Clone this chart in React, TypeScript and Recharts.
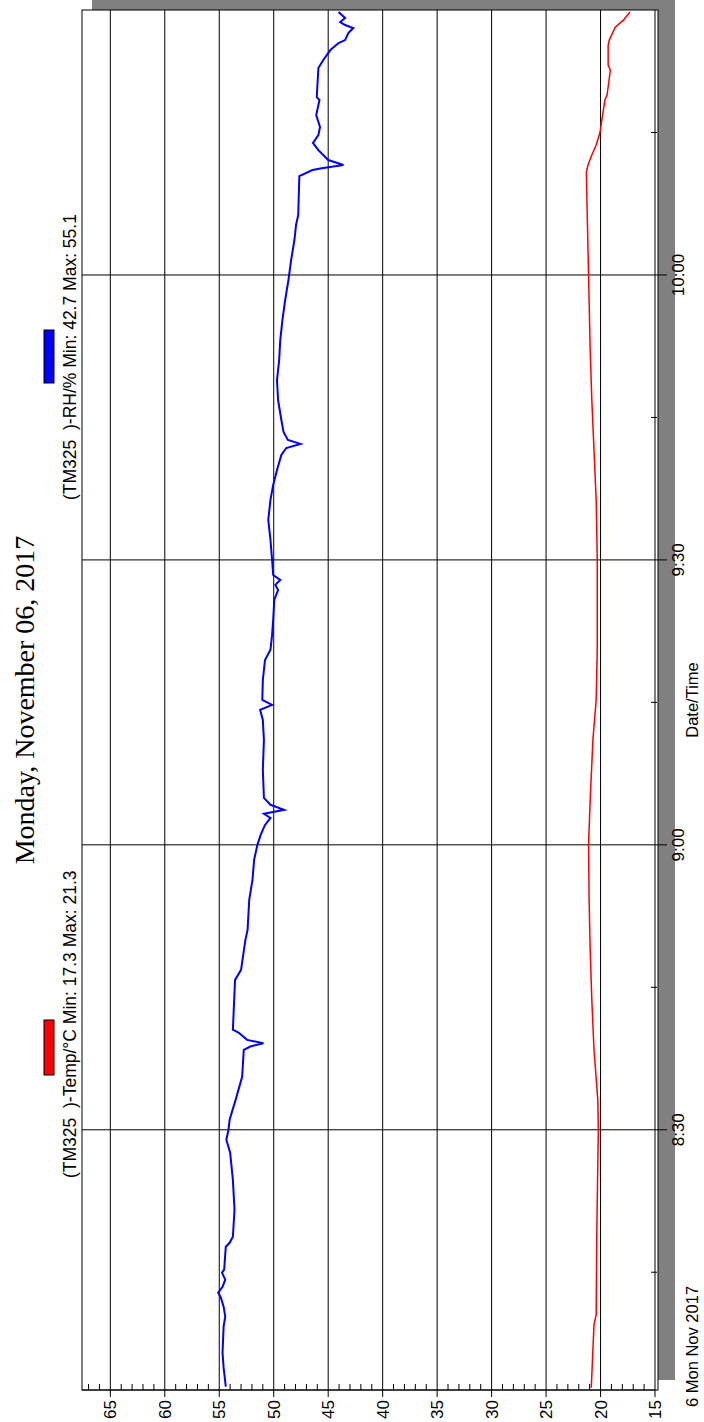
import React from "react";
import { LineChart, Line, XAxis, YAxis, ReferenceLine } from "recharts";

// RH logger trace (TM325), time of day -> %RH
const rhTimes = [
  "8:02:57", "8:04:57", "8:06:31", "8:09:18", "8:10:19", "8:11:22", "8:12:19", "8:12:51",
  "8:13:28", "8:14:13", "8:14:58", "8:15:16", "8:17:41", "8:18:06", "8:18:44", "8:21:35",
  "8:24:44", "8:27:35", "8:28:57", "8:30:00", "8:31:03", "8:33:09", "8:35:35", "8:38:25",
  "8:38:46", "8:39:07", "8:39:28", "8:40:13", "8:40:32", "8:45:47", "8:46:50", "8:50:00",
  "8:51:03", "8:54:13", "8:56:19", "8:58:25", "9:00:00", "9:01:03", "9:02:06", "9:02:50",
  "9:03:16", "9:03:41", "9:04:13", "9:04:57", "9:07:54", "9:11:03", "9:13:09", "9:14:13",
  "9:14:44", "9:15:16", "9:17:22", "9:19:28", "9:20:32", "9:22:06", "9:23:41", "9:25:47",
  "9:26:50", "9:27:22", "9:27:54", "9:28:25", "9:30:00", "9:32:06", "9:34:13", "9:36:19",
  "9:37:54", "9:39:28", "9:41:03", "9:41:47", "9:42:13", "9:42:38", "9:43:28", "9:44:44",
  "9:46:50", "9:48:57", "9:51:03", "9:53:09", "9:55:16", "9:57:22", "9:59:28", "10:01:35",
  "10:03:41", "10:05:16", "10:06:19", "10:10:25", "10:11:03", "10:11:16", "10:11:35", "10:12:06",
  "10:13:09", "10:13:54", "10:14:44", "10:15:35", "10:16:50", "10:18:25", "10:18:44", "10:21:47",
  "10:22:38", "10:23:41", "10:24:25", "10:24:44", "10:25:28", "10:26:00", "10:26:19", "10:26:38",
  "10:27:03", "10:27:22", "10:27:41",
];
const rhValues = [
  54.4, 54.6, 54.7, 54.6, 54.45, 54.6, 54.85, 55.1,
  54.7, 54.45, 54.75, 54.55, 54.4, 54.05, 53.75, 53.6,
  53.75, 54.0, 54.35, 54.15, 54.05, 53.5, 52.9, 52.75,
  52.15, 50.95, 52.45, 53.2, 53.75, 53.55, 53.0, 52.6,
  52.4, 52.25, 51.95, 51.8, 51.5, 51.2, 50.8, 50.3,
  50.9, 49.05, 50.3, 50.9, 51.0, 50.9, 51.0, 51.25,
  50.15, 51.05, 51.0, 50.8, 50.3, 50.15, 50.05, 49.95,
  49.6, 49.85, 49.4, 50.05, 50.15, 50.3, 50.5, 50.3,
  50.05, 49.7, 49.3, 48.85, 47.55, 48.7, 49.1, 49.3,
  49.6, 49.7, 49.5, 49.4, 49.2, 48.95, 48.65, 48.4,
  48.1, 47.95, 47.75, 47.65, 46.45, 45.45, 43.6, 45.0,
  45.9, 46.4, 45.9, 45.75, 46.1, 45.8, 46.05, 45.9,
  45.45, 44.8, 44.05, 43.45, 43.15, 42.7, 43.45, 43.9,
  43.45, 43.75, 44.05,
];

// Temperature trace (TM325), time of day -> °C
const tempTimes = [
  "8:02:50", "8:06:50", "8:09:28", "8:10:32", "8:18:25", "8:22:38", "8:30:00", "8:33:09",
  "8:38:25", "8:43:41", "8:48:57", "8:54:13", "9:00:00", "9:04:44", "9:11:03", "9:15:16",
  "9:20:32", "9:25:47", "9:30:00", "9:36:19", "9:41:35", "9:46:50", "9:52:06", "9:57:22",
  "10:02:38", "10:07:54", "10:10:50", "10:11:35", "10:12:38", "10:13:41", "10:15:00", "10:16:32",
  "10:18:25", "10:18:57", "10:21:35", "10:22:06", "10:24:13", "10:24:44", "10:26:06", "10:26:50",
  "10:27:41",
];
const tempValues = [
  20.85, 20.7, 20.6, 20.4, 20.35, 20.3, 20.2, 20.25,
  20.6, 20.8, 20.95, 21.05, 21.1, 20.95, 20.7, 20.4,
  20.3, 20.3, 20.3, 20.4, 20.6, 20.8, 20.95, 21.05,
  21.15, 21.25, 21.3, 21.15, 20.8, 20.4, 20.05, 19.85,
  19.6, 19.4, 19.1, 19.3, 19.3, 19.2, 18.65, 17.9,
  17.3,
];

const timeTickLabels = ["8:15", "8:30", "8:45", "9:00", "9:15", "9:30", "9:45", "10:00", "10:15"];
const timeGridLabels = ["8:30", "9:00", "9:30", "10:00"];
const valueGrid = [20, 25, 30, 35, 40, 45, 50, 55, 60, 65];

const title = "Monday, November 06, 2017";
const tempLegend = "(TM325  )-Temp/°C Min: 17.3 Max: 21.3";
const rhLegend = "(TM325  )-RH/% Min: 42.7 Max: 55.1";

const toMin = (s: string) => {
  const [h, m, sec = "0"] = s.split(":");
  return Number(h) * 60 + Number(m) + Number(sec) / 60;
};
const fmt = (m: number) => `${Math.floor(m / 60)}:${String(Math.round(m % 60)).padStart(2, "0")}`;

const rhData = rhTimes.map((t, i) => ({ t: toMin(t), v: rhValues[i] }));
const tempData = tempTimes.map((t, i) => ({ t: toMin(t), v: tempValues[i] }));
const timeTicks = timeTickLabels.map(toMin);
const valueTicks = Array.from({ length: 53 }, (_, i) => 15 + i);

const W = 1422;
const H = 704;
const M = { top: 82, right: 10, bottom: 0, left: 0 };
const Y_W = 32;
const X_H = 49;
const FONT = "'Liberation Sans', Arial, sans-serif";

const TimeTick = (props: any) => {
  const { x, y, payload } = props;
  const major = Math.round(payload.value) % 30 === 0;
  return (
    <g>
      <line x1={x} x2={x} y1={major ? y : y - 4} y2={major ? y + 12 : y + 2} stroke="#000" />
      {major && (
        <text x={x} y={y + 29} textAnchor="middle" fontSize={17} fontFamily={FONT} fill="#000">
          {fmt(payload.value)}
        </text>
      )}
    </g>
  );
};

const ValueTick = (props: any) => {
  const { x, y, payload } = props;
  const major = payload.value % 5 === 0;
  return (
    <g>
      <line x1={major ? x - 7 : x} x2={major ? x : x + 6} y1={y} y2={y} stroke="#000" />
      {major && (
        <text x={x - 10} y={y + 6} textAnchor="end" fontSize={17} fontFamily={FONT} fill="#000">
          {payload.value}
        </text>
      )}
    </g>
  );
};

export default function App() {
  const px = M.left + Y_W;
  const py = M.top;
  const pw = W - M.right - px;
  const ph = H - M.bottom - X_H - py;
  return (
    <div style={{ position: "absolute", left: 0, top: 0, width: 704, height: 1422, overflow: "hidden", background: "#fff" }}>
      <div
        style={{
          position: "absolute",
          left: 0,
          top: W,
          width: W,
          height: H,
          transform: "rotate(-90deg)",
          transformOrigin: "0 0",
        }}
      >
        <svg width={W} height={H} style={{ position: "absolute", left: 0, top: 0 }}>
          <rect x={px + 10} y={py + 10} width={pw + 8} height={ph + 10} fill="#808080" />
          <rect x={px} y={py} width={pw} height={ph + 3} fill="#fff" stroke="#000" strokeWidth={1} />
        </svg>
        <div style={{ position: "absolute", left: 0, top: 0 }}>
          <LineChart width={W} height={H} margin={M} style={{ overflow: "visible" }}>
            <XAxis
              type="number"
              dataKey="t"
              domain={[482.6, 627.9]}
              allowDataOverflow
              ticks={timeTicks}
              interval={0}
              tick={<TimeTick />}
              tickLine={false}
              tickSize={0}
              tickMargin={0}
              axisLine={{ stroke: "#000" }}
              height={X_H}
            />
            <YAxis
              type="number"
              domain={[15, 67.6]}
              allowDataOverflow
              ticks={valueTicks}
              interval={0}
              tick={<ValueTick />}
              tickLine={false}
              tickSize={0}
              tickMargin={0}
              axisLine={{ stroke: "#000" }}
              width={Y_W}
            />
            {valueGrid.map((v) => (
              <ReferenceLine key={`v${v}`} y={v} stroke="#000" strokeWidth={1} />
            ))}
            {timeGridLabels.map((t) => (
              <ReferenceLine key={`t${t}`} x={toMin(t)} stroke="#000" strokeWidth={1} />
            ))}
            <Line data={tempData} dataKey="v" type="linear" stroke="#ff0000" strokeWidth={1.5} dot={false} isAnimationActive={false} />
            <Line data={rhData} dataKey="v" type="linear" stroke="#0000ff" strokeWidth={2} dot={false} isAnimationActive={false} />
          </LineChart>
        </div>
        <svg width={W} height={H} style={{ position: "absolute", left: 0, top: 0, overflow: "visible", pointerEvents: "none" }}>
          <text x={px + pw / 2} y={34} textAnchor="middle" fontSize={28} fontFamily="'Liberation Serif', 'Times New Roman', serif" fill="#000">
            {title}
          </text>
          <rect x={347} y={44} width={55} height={10} fill="#ff0000" stroke="#000" />
          <text x={244} y={76} fontSize={17.5} fontFamily={FONT} fill="#000" style={{ whiteSpace: "pre" }}>
            {tempLegend}
          </text>
          <rect x={1039} y={44} width={53} height={10} fill="#0000ff" stroke="#000" />
          <text x={922} y={76} fontSize={17.5} fontFamily={FONT} fill="#000" style={{ whiteSpace: "pre" }}>
            {rhLegend}
          </text>
          <text x={px + pw / 2} y={698} textAnchor="middle" fontSize={16.5} fontFamily={FONT} fill="#000">
            Date/Time
          </text>
          <text x={15} y={698} fontSize={16.5} fontFamily={FONT} fill="#000">
            6 Mon Nov 2017
          </text>
        </svg>
      </div>
    </div>
  );
}
